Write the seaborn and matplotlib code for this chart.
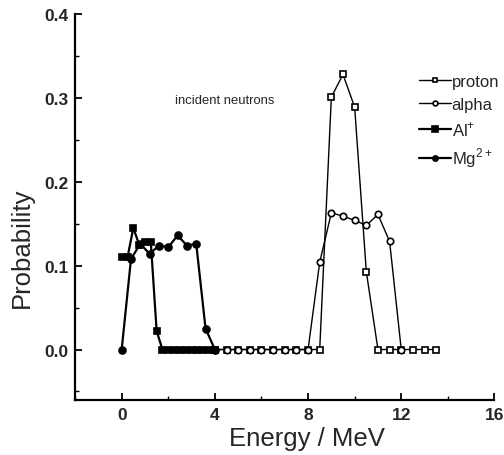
import numpy as np
import pandas as pd
import matplotlib
matplotlib.use("Agg")
import matplotlib.pyplot as plt
from matplotlib.ticker import MultipleLocator
import seaborn as sns

sns.set_theme(style="white")
plt.rcParams["font.family"] = ["Liberation Sans", "DejaVu Sans"]
plt.rcParams["mathtext.fontset"] = "custom"
plt.rcParams["mathtext.rm"] = "Liberation Sans"

# Energy spectra of reaction products for incident neutrons
proton_e = [4.0, 4.5, 5.0, 5.5, 6.0, 6.5, 7.0, 7.5, 8.0, 8.5, 9.0, 9.5, 10.0,
            10.5, 11.0, 11.5, 12.0, 12.5, 13.0, 13.5]
proton_p = [0, 0, 0, 0, 0, 0, 0, 0, 0, 0, 0.301, 0.328, 0.289,
            0.093, 0, 0, 0, 0, 0, 0]

alpha_e = [4.0, 4.5, 5.0, 5.5, 6.0, 6.5, 7.0, 7.5, 8.0, 8.5, 9.0, 9.5, 10.0,
           10.5, 11.0, 11.5, 12.0]
alpha_p = [0, 0, 0, 0, 0, 0, 0, 0, 0, 0.104, 0.163, 0.159, 0.154,
           0.148, 0.161, 0.129, 0]

al_e = [0.0, 0.25, 0.5, 0.75, 1.0, 1.25, 1.5, 1.75, 2.0, 2.25, 2.5, 2.75,
        3.0, 3.25, 3.5, 3.75, 4.0]
al_p = [0.110, 0.110, 0.145, 0.125, 0.128, 0.128, 0.022, 0, 0, 0, 0, 0,
        0, 0, 0, 0, 0]

mg_e = [0.0, 0.4, 0.8, 1.2, 1.6, 2.0, 2.4, 2.8, 3.2, 3.6, 4.0]
mg_p = [0, 0.108, 0.126, 0.114, 0.124, 0.122, 0.136, 0.124, 0.126, 0.025, 0]

labels = ["proton", "alpha", "Al$^{+}$", "Mg$^{2+}$"]

fig = plt.figure(figsize=(5.04, 4.56), dpi=100)
ax = fig.add_axes([0.149, 0.121, 0.832, 0.846])

series = [
    (proton_e, proton_p, labels[0], "s", "white", 1.0, 4.6),
    (alpha_e, alpha_p, labels[1], "o", "white", 1.0, 4.6),
    (al_e, al_p, labels[2], "s", "black", 1.6, 5.0),
    (mg_e, mg_p, labels[3], "o", "black", 1.6, 5.0),
]
for xs, ys, lab, mk, fc, lw, ms in series:
    df = pd.DataFrame({"Energy": xs, "Probability": ys})
    sns.lineplot(data=df, x="Energy", y="Probability", ax=ax, sort=False,
                 color="black", linewidth=lw, marker=mk, markersize=ms,
                 markerfacecolor=fc, markeredgecolor="black",
                 markeredgewidth=1.2, label=lab)

ax.set_xlim(-2, 16)
ax.set_ylim(-0.06, 0.4)
ax.xaxis.set_major_locator(MultipleLocator(4))
ax.xaxis.set_minor_locator(MultipleLocator(2))
ax.yaxis.set_major_locator(MultipleLocator(0.1))
ax.yaxis.set_minor_locator(MultipleLocator(0.05))
ax.set_yticks([0.0, 0.1, 0.2, 0.3, 0.4])
ax.set_yticklabels(["0.0", "0.1", "0.2", "0.3", "0.4"])

for side in ("top", "right"):
    ax.spines[side].set_visible(False)
for side in ("left", "bottom"):
    ax.spines[side].set_color("black")
    ax.spines[side].set_linewidth(1.6)

ax.tick_params(axis="both", which="major", direction="in", length=5,
               width=1.3, color="black", labelsize=12.5, pad=5,
               left=True, bottom=True)
ax.tick_params(axis="both", which="minor", direction="in", length=3,
               width=1.0, color="black", left=True, bottom=True)
for t in ax.get_xticklabels() + ax.get_yticklabels():
    t.set_fontweight("bold")

ax.set_xlabel("Energy / MeV", fontsize=18.5)
ax.set_ylabel("Probability", fontsize=18.5)
ax.xaxis.set_label_coords(0.553, -0.068)
ax.yaxis.set_label_coords(-0.098, 0.396)

ax.text(2.3, 0.298, "incident neutrons", fontsize=9.4, ha="left", va="center")

leg = ax.legend(loc="upper right", bbox_to_anchor=(1.035, 0.87), frameon=False,
                handlelength=1.9, handletextpad=0.05, numpoints=1,
                labelspacing=0.45, borderaxespad=0.2, markerscale=0.75,
                prop={"size": 12})

fig.savefig("out.png", dpi=100)
